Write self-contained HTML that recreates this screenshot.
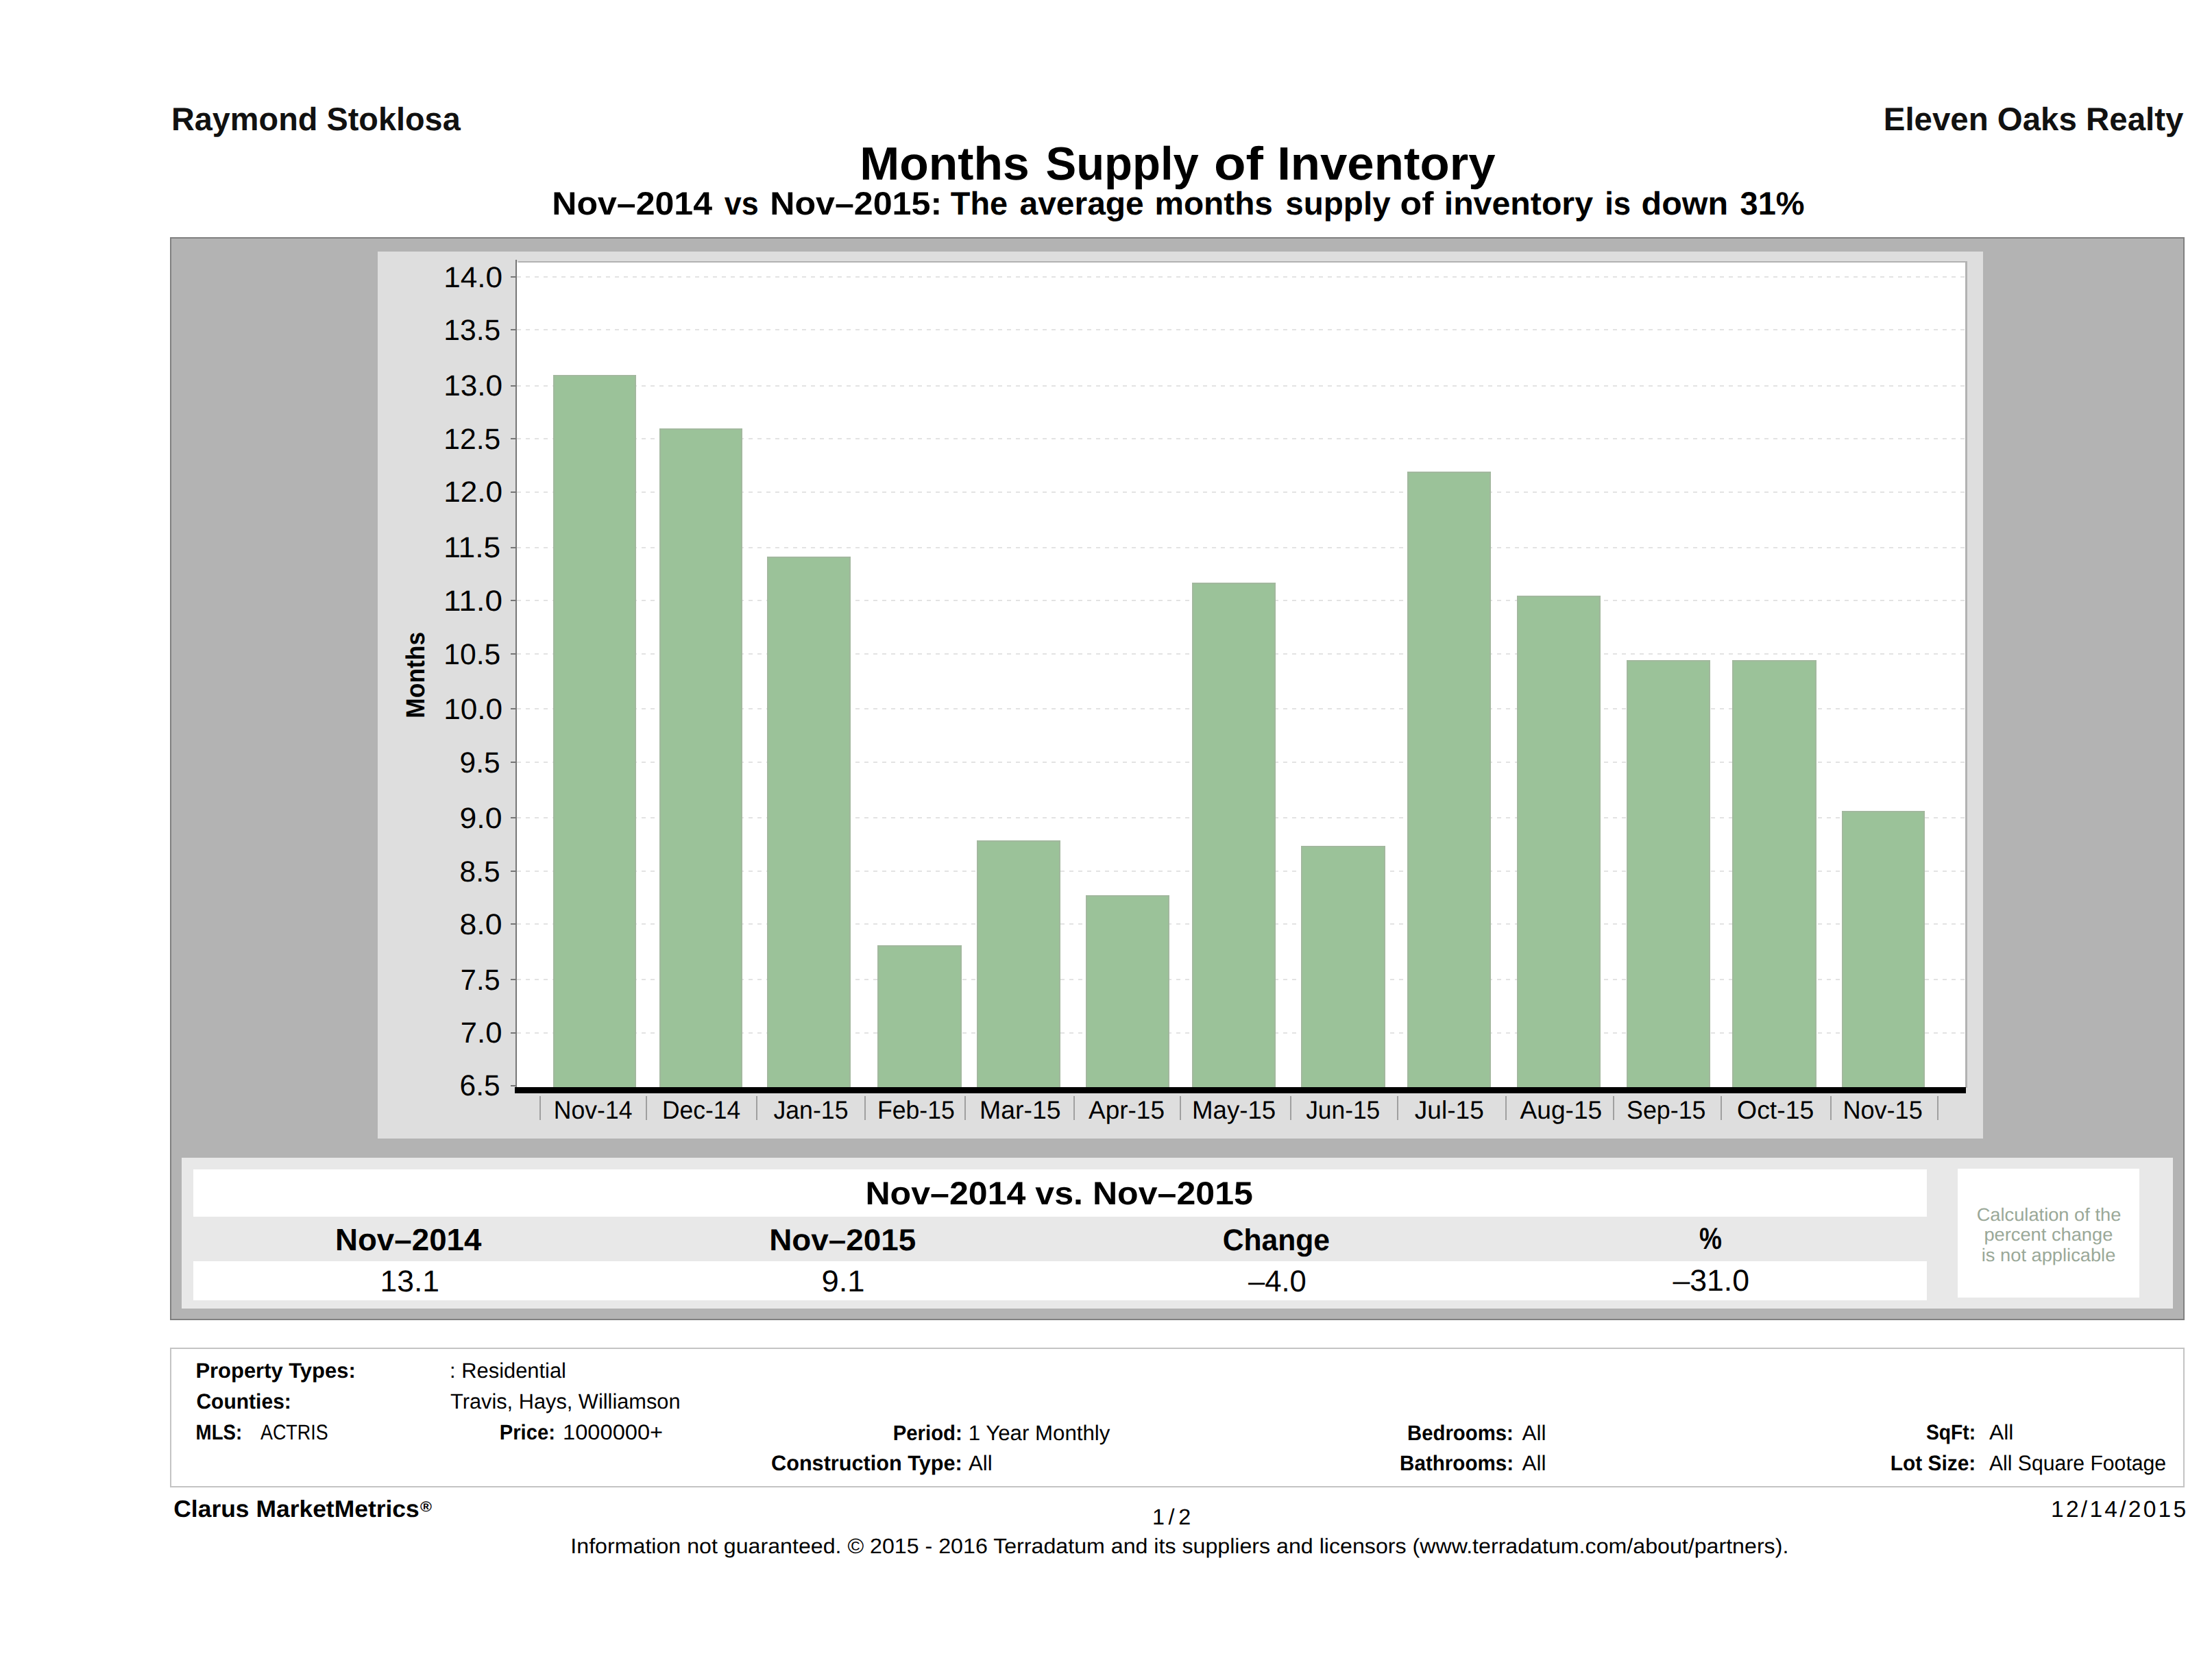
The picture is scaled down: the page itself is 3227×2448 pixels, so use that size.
<!DOCTYPE html>
<html><head><meta charset="utf-8"><title>Months Supply of Inventory</title>
<style>html,body{margin:0;padding:0;background:#fff;width:3227px;height:2448px;overflow:hidden}svg{display:block}svg text{font-family:"Liberation Sans",sans-serif;text-rendering:geometricPrecision}</style>
</head><body>
<svg width="3227" height="2448" viewBox="0 0 3227 2448" font-family="'Liberation Sans', sans-serif" shape-rendering="crispEdges">
<rect x="0.0" y="0.0" width="3227.0" height="2448.0" fill="#fff"/>
<rect x="248.0" y="346.0" width="2939.0" height="1580.0" fill="#808080"/>
<rect x="250.0" y="348.0" width="2935.0" height="1576.0" fill="#b3b3b3"/>
<rect x="551.0" y="367.0" width="2342.0" height="1294.0" fill="#dedede"/>
<rect x="756.0" y="380.5" width="2114.0" height="1206.5" fill="#b2b2b2"/>
<rect x="754.0" y="383.0" width="2113.0" height="1204.0" fill="#fff"/>
<line x1="754" y1="403.9" x2="2867" y2="403.9" stroke="#e3e3e3" stroke-width="2" stroke-dasharray="6 7"/>
<line x1="754" y1="481.4" x2="2867" y2="481.4" stroke="#e3e3e3" stroke-width="2" stroke-dasharray="6 7"/>
<line x1="754" y1="562.7" x2="2867" y2="562.7" stroke="#e3e3e3" stroke-width="2" stroke-dasharray="6 7"/>
<line x1="754" y1="640.3" x2="2867" y2="640.3" stroke="#e3e3e3" stroke-width="2" stroke-dasharray="6 7"/>
<line x1="754" y1="717.7" x2="2867" y2="717.7" stroke="#e3e3e3" stroke-width="2" stroke-dasharray="6 7"/>
<line x1="754" y1="798.6" x2="2867" y2="798.6" stroke="#e3e3e3" stroke-width="2" stroke-dasharray="6 7"/>
<line x1="754" y1="876.2" x2="2867" y2="876.2" stroke="#e3e3e3" stroke-width="2" stroke-dasharray="6 7"/>
<line x1="754" y1="953.8" x2="2867" y2="953.8" stroke="#e3e3e3" stroke-width="2" stroke-dasharray="6 7"/>
<line x1="754" y1="1034.3" x2="2867" y2="1034.3" stroke="#e3e3e3" stroke-width="2" stroke-dasharray="6 7"/>
<line x1="754" y1="1111.9" x2="2867" y2="1111.9" stroke="#e3e3e3" stroke-width="2" stroke-dasharray="6 7"/>
<line x1="754" y1="1193.2" x2="2867" y2="1193.2" stroke="#e3e3e3" stroke-width="2" stroke-dasharray="6 7"/>
<line x1="754" y1="1270.8" x2="2867" y2="1270.8" stroke="#e3e3e3" stroke-width="2" stroke-dasharray="6 7"/>
<line x1="754" y1="1348.2" x2="2867" y2="1348.2" stroke="#e3e3e3" stroke-width="2" stroke-dasharray="6 7"/>
<line x1="754" y1="1428.9" x2="2867" y2="1428.9" stroke="#e3e3e3" stroke-width="2" stroke-dasharray="6 7"/>
<line x1="754" y1="1506.5" x2="2867" y2="1506.5" stroke="#e3e3e3" stroke-width="2" stroke-dasharray="6 7"/>
<rect x="807.0" y="547.0" width="121.0" height="1040.0" fill="#a2b89e"/>
<rect x="809.0" y="549.0" width="117.0" height="1038.0" fill="#9bc299"/>
<rect x="962.0" y="625.0" width="121.0" height="962.0" fill="#a2b89e"/>
<rect x="964.0" y="627.0" width="117.0" height="960.0" fill="#9bc299"/>
<rect x="1119.0" y="811.5" width="122.0" height="775.5" fill="#a2b89e"/>
<rect x="1121.0" y="813.5" width="118.0" height="773.5" fill="#9bc299"/>
<rect x="1280.0" y="1379.0" width="123.0" height="208.0" fill="#a2b89e"/>
<rect x="1282.0" y="1381.0" width="119.0" height="206.0" fill="#9bc299"/>
<rect x="1425.0" y="1226.0" width="122.0" height="361.0" fill="#a2b89e"/>
<rect x="1427.0" y="1228.0" width="118.0" height="359.0" fill="#9bc299"/>
<rect x="1584.0" y="1305.5" width="122.0" height="281.5" fill="#a2b89e"/>
<rect x="1586.0" y="1307.5" width="118.0" height="279.5" fill="#9bc299"/>
<rect x="1739.0" y="850.0" width="122.0" height="737.0" fill="#a2b89e"/>
<rect x="1741.0" y="852.0" width="118.0" height="735.0" fill="#9bc299"/>
<rect x="1898.0" y="1234.0" width="122.5" height="353.0" fill="#a2b89e"/>
<rect x="1900.0" y="1236.0" width="118.5" height="351.0" fill="#9bc299"/>
<rect x="2053.0" y="688.0" width="122.0" height="899.0" fill="#a2b89e"/>
<rect x="2055.0" y="690.0" width="118.0" height="897.0" fill="#9bc299"/>
<rect x="2213.0" y="869.0" width="122.0" height="718.0" fill="#a2b89e"/>
<rect x="2215.0" y="871.0" width="118.0" height="716.0" fill="#9bc299"/>
<rect x="2373.0" y="963.0" width="122.0" height="624.0" fill="#a2b89e"/>
<rect x="2375.0" y="965.0" width="118.0" height="622.0" fill="#9bc299"/>
<rect x="2527.0" y="963.0" width="123.0" height="624.0" fill="#a2b89e"/>
<rect x="2529.0" y="965.0" width="119.0" height="622.0" fill="#9bc299"/>
<rect x="2687.0" y="1183.3" width="121.0" height="403.7" fill="#a2b89e"/>
<rect x="2689.0" y="1185.3" width="117.0" height="401.7" fill="#9bc299"/>
<rect x="751.5" y="379.0" width="2.5" height="1216.0" fill="#777"/>
<rect x="745.0" y="402.9" width="7.0" height="2.0" fill="#777"/>
<rect x="745.0" y="480.4" width="7.0" height="2.0" fill="#777"/>
<rect x="745.0" y="561.7" width="7.0" height="2.0" fill="#777"/>
<rect x="745.0" y="639.3" width="7.0" height="2.0" fill="#777"/>
<rect x="745.0" y="716.7" width="7.0" height="2.0" fill="#777"/>
<rect x="745.0" y="797.6" width="7.0" height="2.0" fill="#777"/>
<rect x="745.0" y="875.2" width="7.0" height="2.0" fill="#777"/>
<rect x="745.0" y="952.8" width="7.0" height="2.0" fill="#777"/>
<rect x="745.0" y="1033.3" width="7.0" height="2.0" fill="#777"/>
<rect x="745.0" y="1110.9" width="7.0" height="2.0" fill="#777"/>
<rect x="745.0" y="1192.2" width="7.0" height="2.0" fill="#777"/>
<rect x="745.0" y="1269.8" width="7.0" height="2.0" fill="#777"/>
<rect x="745.0" y="1347.2" width="7.0" height="2.0" fill="#777"/>
<rect x="745.0" y="1427.9" width="7.0" height="2.0" fill="#777"/>
<rect x="745.0" y="1505.5" width="7.0" height="2.0" fill="#777"/>
<rect x="745.0" y="1582.7" width="7.0" height="2.0" fill="#777"/>
<rect x="751.0" y="1586.0" width="2117.0" height="9.3" fill="#000"/>
<rect x="787.0" y="1599.0" width="2.0" height="35.0" fill="#a0a0a0"/>
<rect x="942.0" y="1599.0" width="2.0" height="35.0" fill="#a0a0a0"/>
<rect x="1103.0" y="1599.0" width="2.0" height="35.0" fill="#a0a0a0"/>
<rect x="1261.0" y="1599.0" width="2.0" height="35.0" fill="#a0a0a0"/>
<rect x="1407.0" y="1599.0" width="2.0" height="35.0" fill="#a0a0a0"/>
<rect x="1566.0" y="1599.0" width="2.0" height="35.0" fill="#a0a0a0"/>
<rect x="1721.0" y="1599.0" width="2.0" height="35.0" fill="#a0a0a0"/>
<rect x="1882.0" y="1599.0" width="2.0" height="35.0" fill="#a0a0a0"/>
<rect x="2037.5" y="1599.0" width="2.0" height="35.0" fill="#a0a0a0"/>
<rect x="2195.5" y="1599.0" width="2.0" height="35.0" fill="#a0a0a0"/>
<rect x="2353.0" y="1599.0" width="2.0" height="35.0" fill="#a0a0a0"/>
<rect x="2510.0" y="1599.0" width="2.0" height="35.0" fill="#a0a0a0"/>
<rect x="2670.0" y="1599.0" width="2.0" height="35.0" fill="#a0a0a0"/>
<rect x="2826.0" y="1599.0" width="2.0" height="35.0" fill="#a0a0a0"/>
<rect x="265.0" y="1689.0" width="2905.0" height="220.0" fill="#e8e8e8"/>
<rect x="281.6" y="1705.5" width="2529.8" height="69.3" fill="#fff"/>
<rect x="281.6" y="1839.7" width="2529.8" height="57.3" fill="#fff"/>
<rect x="2856.0" y="1705.0" width="265.0" height="187.5" fill="#fff"/>
<rect x="248.0" y="1966.0" width="2939.0" height="204.0" fill="#c4c4c4"/>
<rect x="250.0" y="1968.0" width="2935.0" height="200.0" fill="#fff"/>
<text x="249.92" y="190.30" font-size="47.25" font-weight="bold" fill="#111" textLength="421.79" lengthAdjust="spacingAndGlyphs">Raymond Stoklosa</text>
<text x="2747.79" y="190.30" font-size="47.25" font-weight="bold" fill="#111" textLength="437.57" lengthAdjust="spacingAndGlyphs">Eleven Oaks Realty</text>
<text x="1254.21" y="262.00" font-size="68.12" font-weight="bold" fill="#000" textLength="247.57" lengthAdjust="spacingAndGlyphs">Months</text>
<text x="1525.53" y="262.00" font-size="68.12" font-weight="bold" fill="#000" textLength="223.21" lengthAdjust="spacingAndGlyphs">Supply</text>
<text x="1770.94" y="262.00" font-size="68.12" font-weight="bold" fill="#000" textLength="71.99" lengthAdjust="spacingAndGlyphs">of</text>
<text x="1863.15" y="262.00" font-size="68.12" font-weight="bold" fill="#000" textLength="318.44" lengthAdjust="spacingAndGlyphs">Inventory</text>
<text x="805.32" y="313.30" font-size="47.25" font-weight="bold" fill="#000" textLength="233.71" lengthAdjust="spacingAndGlyphs">Nov–2014</text>
<text x="1056.70" y="313.30" font-size="47.25" font-weight="bold" fill="#000" textLength="49.97" lengthAdjust="spacingAndGlyphs">vs</text>
<text x="1123.22" y="313.30" font-size="47.25" font-weight="bold" fill="#000" textLength="250.86" lengthAdjust="spacingAndGlyphs">Nov–2015:</text>
<text x="1386.80" y="313.30" font-size="47.25" font-weight="bold" fill="#000" textLength="83.38" lengthAdjust="spacingAndGlyphs">The</text>
<text x="1487.48" y="313.30" font-size="47.25" font-weight="bold" fill="#000" textLength="181.33" lengthAdjust="spacingAndGlyphs">average</text>
<text x="1684.47" y="313.30" font-size="47.25" font-weight="bold" fill="#000" textLength="172.41" lengthAdjust="spacingAndGlyphs">months</text>
<text x="1875.29" y="313.30" font-size="47.25" font-weight="bold" fill="#000" textLength="153.35" lengthAdjust="spacingAndGlyphs">supply</text>
<text x="2042.50" y="313.30" font-size="47.25" font-weight="bold" fill="#000" textLength="48.95" lengthAdjust="spacingAndGlyphs">of</text>
<text x="2106.73" y="313.30" font-size="47.25" font-weight="bold" fill="#000" textLength="217.29" lengthAdjust="spacingAndGlyphs">inventory</text>
<text x="2341.21" y="313.30" font-size="47.25" font-weight="bold" fill="#000" textLength="37.94" lengthAdjust="spacingAndGlyphs">is</text>
<text x="2394.55" y="313.30" font-size="47.25" font-weight="bold" fill="#000" textLength="126.52" lengthAdjust="spacingAndGlyphs">down</text>
<text x="2538.51" y="313.30" font-size="47.25" font-weight="bold" fill="#000" textLength="94.03" lengthAdjust="spacingAndGlyphs">31%</text>
<text x="647.19" y="418.60" font-size="42.61" font-weight="normal" fill="#000" textLength="85.99" lengthAdjust="spacingAndGlyphs">14.0</text>
<text x="647.30" y="496.10" font-size="42.61" font-weight="normal" fill="#000" textLength="83.01" lengthAdjust="spacingAndGlyphs">13.5</text>
<text x="647.19" y="577.40" font-size="42.61" font-weight="normal" fill="#000" textLength="85.99" lengthAdjust="spacingAndGlyphs">13.0</text>
<text x="647.30" y="655.00" font-size="42.61" font-weight="normal" fill="#000" textLength="83.01" lengthAdjust="spacingAndGlyphs">12.5</text>
<text x="647.19" y="732.40" font-size="42.61" font-weight="normal" fill="#000" textLength="85.99" lengthAdjust="spacingAndGlyphs">12.0</text>
<text x="647.18" y="813.30" font-size="42.61" font-weight="normal" fill="#000" textLength="83.05" lengthAdjust="spacingAndGlyphs">11.5</text>
<text x="647.06" y="890.90" font-size="42.61" font-weight="normal" fill="#000" textLength="86.02" lengthAdjust="spacingAndGlyphs">11.0</text>
<text x="647.30" y="968.50" font-size="42.61" font-weight="normal" fill="#000" textLength="83.01" lengthAdjust="spacingAndGlyphs">10.5</text>
<text x="647.19" y="1049.00" font-size="42.61" font-weight="normal" fill="#000" textLength="85.99" lengthAdjust="spacingAndGlyphs">10.0</text>
<text x="670.61" y="1126.60" font-size="42.61" font-weight="normal" fill="#000" textLength="59.01" lengthAdjust="spacingAndGlyphs">9.5</text>
<text x="670.51" y="1207.90" font-size="42.61" font-weight="normal" fill="#000" textLength="61.97" lengthAdjust="spacingAndGlyphs">9.0</text>
<text x="670.61" y="1285.50" font-size="42.61" font-weight="normal" fill="#000" textLength="59.01" lengthAdjust="spacingAndGlyphs">8.5</text>
<text x="670.51" y="1362.90" font-size="42.61" font-weight="normal" fill="#000" textLength="61.97" lengthAdjust="spacingAndGlyphs">8.0</text>
<text x="671.85" y="1443.60" font-size="42.61" font-weight="normal" fill="#000" textLength="57.74" lengthAdjust="spacingAndGlyphs">7.5</text>
<text x="671.75" y="1521.20" font-size="42.61" font-weight="normal" fill="#000" textLength="60.70" lengthAdjust="spacingAndGlyphs">7.0</text>
<text x="670.61" y="1598.40" font-size="42.61" font-weight="normal" fill="#000" textLength="59.01" lengthAdjust="spacingAndGlyphs">6.5</text>
<text x="619.10" y="1047.66" transform="rotate(-90 619.10 1047.66)" font-size="38.12" font-weight="bold" fill="#000" textLength="125.72" lengthAdjust="spacingAndGlyphs">Months</text>
<text x="807.82" y="1631.50" font-size="37.10" font-weight="normal" fill="#000" textLength="114.63" lengthAdjust="spacingAndGlyphs">Nov-14</text>
<text x="966.03" y="1631.50" font-size="37.10" font-weight="normal" fill="#000" textLength="114.22" lengthAdjust="spacingAndGlyphs">Dec-14</text>
<text x="1128.44" y="1631.50" font-size="37.10" font-weight="normal" fill="#000" textLength="109.03" lengthAdjust="spacingAndGlyphs">Jan-15</text>
<text x="1279.92" y="1631.50" font-size="37.10" font-weight="normal" fill="#000" textLength="112.85" lengthAdjust="spacingAndGlyphs">Feb-15</text>
<text x="1428.97" y="1631.50" font-size="37.10" font-weight="normal" fill="#000" textLength="118.54" lengthAdjust="spacingAndGlyphs">Mar-15</text>
<text x="1588.00" y="1631.50" font-size="37.10" font-weight="normal" fill="#000" textLength="110.94" lengthAdjust="spacingAndGlyphs">Apr-15</text>
<text x="1739.04" y="1631.50" font-size="37.10" font-weight="normal" fill="#000" textLength="122.14" lengthAdjust="spacingAndGlyphs">May-15</text>
<text x="1905.15" y="1631.50" font-size="37.10" font-weight="normal" fill="#000" textLength="108.11" lengthAdjust="spacingAndGlyphs">Jun-15</text>
<text x="2063.80" y="1631.50" font-size="37.10" font-weight="normal" fill="#000" textLength="101.03" lengthAdjust="spacingAndGlyphs">Jul-15</text>
<text x="2217.50" y="1631.50" font-size="37.10" font-weight="normal" fill="#000" textLength="119.73" lengthAdjust="spacingAndGlyphs">Aug-15</text>
<text x="2373.07" y="1631.50" font-size="37.10" font-weight="normal" fill="#000" textLength="115.40" lengthAdjust="spacingAndGlyphs">Sep-15</text>
<text x="2534.08" y="1631.50" font-size="37.10" font-weight="normal" fill="#000" textLength="112.26" lengthAdjust="spacingAndGlyphs">Oct-15</text>
<text x="2688.38" y="1631.50" font-size="37.10" font-weight="normal" fill="#000" textLength="116.35" lengthAdjust="spacingAndGlyphs">Nov-15</text>
<text x="1262.41" y="1757.10" font-size="47.10" font-weight="bold" fill="#000" textLength="565.47" lengthAdjust="spacingAndGlyphs">Nov–2014 vs. Nov–2015</text>
<text x="488.95" y="1824.00" font-size="44.93" font-weight="bold" fill="#000" textLength="213.47" lengthAdjust="spacingAndGlyphs">Nov–2014</text>
<text x="1122.19" y="1823.50" font-size="44.20" font-weight="bold" fill="#000" textLength="214.02" lengthAdjust="spacingAndGlyphs">Nov–2015</text>
<text x="1783.67" y="1823.50" font-size="44.20" font-weight="bold" fill="#000" textLength="156.34" lengthAdjust="spacingAndGlyphs">Change</text>
<text x="2478.96" y="1822.40" font-size="44.20" font-weight="bold" fill="#000" textLength="32.92" lengthAdjust="spacingAndGlyphs">%</text>
<text x="554.46" y="1884.00" font-size="43.91" font-weight="normal" fill="#000" textLength="86.52" lengthAdjust="spacingAndGlyphs">13.1</text>
<text x="1198.43" y="1884.00" font-size="43.91" font-weight="normal" fill="#000" textLength="63.19" lengthAdjust="spacingAndGlyphs">9.1</text>
<text x="1821.00" y="1884.00" font-size="43.91" font-weight="normal" fill="#000" textLength="84.86" lengthAdjust="spacingAndGlyphs">–4.0</text>
<text x="2440.40" y="1883.40" font-size="43.91" font-weight="normal" fill="#000" textLength="111.71" lengthAdjust="spacingAndGlyphs">–31.0</text>
<text x="2883.67" y="1780.50" font-size="26.52" font-weight="normal" fill="#9aa898" textLength="210.64" lengthAdjust="spacingAndGlyphs">Calculation of the</text>
<text x="2894.42" y="1810.20" font-size="26.52" font-weight="normal" fill="#9aa898" textLength="187.95" lengthAdjust="spacingAndGlyphs">percent change</text>
<text x="2890.82" y="1839.50" font-size="26.52" font-weight="normal" fill="#9aa898" textLength="195.50" lengthAdjust="spacingAndGlyphs">is not applicable</text>
<text x="285.40" y="2010.30" font-size="31.01" font-weight="bold" fill="#000" textLength="233.31" lengthAdjust="spacingAndGlyphs">Property Types:</text>
<text x="656.11" y="2010.30" font-size="31.01" font-weight="normal" fill="#000" textLength="169.87" lengthAdjust="spacingAndGlyphs">: Residential</text>
<text x="286.43" y="2055.00" font-size="31.01" font-weight="bold" fill="#000" textLength="138.41" lengthAdjust="spacingAndGlyphs">Counties:</text>
<text x="657.01" y="2055.00" font-size="31.01" font-weight="normal" fill="#000" textLength="335.55" lengthAdjust="spacingAndGlyphs">Travis, Hays, Williamson</text>
<text x="285.61" y="2099.70" font-size="31.01" font-weight="bold" fill="#000" textLength="67.66" lengthAdjust="spacingAndGlyphs">MLS:</text>
<text x="380.00" y="2099.70" font-size="31.01" font-weight="normal" fill="#000" textLength="98.66" lengthAdjust="spacingAndGlyphs">ACTRIS</text>
<text x="728.82" y="2099.70" font-size="31.01" font-weight="bold" fill="#000" textLength="81.07" lengthAdjust="spacingAndGlyphs">Price:</text>
<text x="821.10" y="2099.70" font-size="31.01" font-weight="normal" fill="#000" textLength="146.04" lengthAdjust="spacingAndGlyphs">1000000+</text>
<text x="1302.71" y="2100.70" font-size="31.01" font-weight="bold" fill="#000" textLength="101.04" lengthAdjust="spacingAndGlyphs">Period:</text>
<text x="1412.68" y="2100.70" font-size="31.01" font-weight="normal" fill="#000" textLength="206.71" lengthAdjust="spacingAndGlyphs">1 Year Monthly</text>
<text x="1125.01" y="2145.20" font-size="31.01" font-weight="bold" fill="#000" textLength="278.83" lengthAdjust="spacingAndGlyphs">Construction Type:</text>
<text x="1413.00" y="2145.20" font-size="31.01" font-weight="normal" fill="#000" textLength="34.66" lengthAdjust="spacingAndGlyphs">All</text>
<text x="2053.11" y="2100.70" font-size="31.01" font-weight="bold" fill="#000" textLength="154.69" lengthAdjust="spacingAndGlyphs">Bedrooms:</text>
<text x="2220.50" y="2100.70" font-size="31.01" font-weight="normal" fill="#000" textLength="34.98" lengthAdjust="spacingAndGlyphs">All</text>
<text x="2042.09" y="2145.20" font-size="31.01" font-weight="bold" fill="#000" textLength="166.03" lengthAdjust="spacingAndGlyphs">Bathrooms:</text>
<text x="2220.50" y="2145.20" font-size="31.01" font-weight="normal" fill="#000" textLength="34.98" lengthAdjust="spacingAndGlyphs">All</text>
<text x="2809.89" y="2100.00" font-size="31.01" font-weight="bold" fill="#000" textLength="72.23" lengthAdjust="spacingAndGlyphs">SqFt:</text>
<text x="2902.00" y="2100.00" font-size="31.01" font-weight="normal" fill="#000" textLength="35.39" lengthAdjust="spacingAndGlyphs">All</text>
<text x="2757.67" y="2144.60" font-size="31.01" font-weight="bold" fill="#000" textLength="124.59" lengthAdjust="spacingAndGlyphs">Lot Size:</text>
<text x="2902.00" y="2144.60" font-size="31.01" font-weight="normal" fill="#000" textLength="258.07" lengthAdjust="spacingAndGlyphs">All Square Footage</text>
<text x="253.28" y="2213.30" font-size="34.64" font-weight="bold" fill="#000" textLength="358.50" lengthAdjust="spacingAndGlyphs">Clarus MarketMetrics</text>
<text x="613.00" y="2205.00" font-size="21.01" font-weight="bold" fill="#000" textLength="16.93" lengthAdjust="spacingAndGlyphs">®</text>
<text x="1681.00" y="2224.30" font-size="32.32" font-weight="normal" fill="#000" textLength="56.21" lengthAdjust="spacing">1/2</text>
<text x="2992.00" y="2212.70" font-size="33.62" font-weight="normal" fill="#000" textLength="197.22" lengthAdjust="spacing">12/14/2015</text>
<text x="832.37" y="2265.50" font-size="30.87" font-weight="normal" fill="#000" textLength="1776.96" lengthAdjust="spacingAndGlyphs">Information not guaranteed. © 2015 - 2016 Terradatum and its suppliers and licensors (www.terradatum.com/about/partners).</text>
</svg>
</body></html>
